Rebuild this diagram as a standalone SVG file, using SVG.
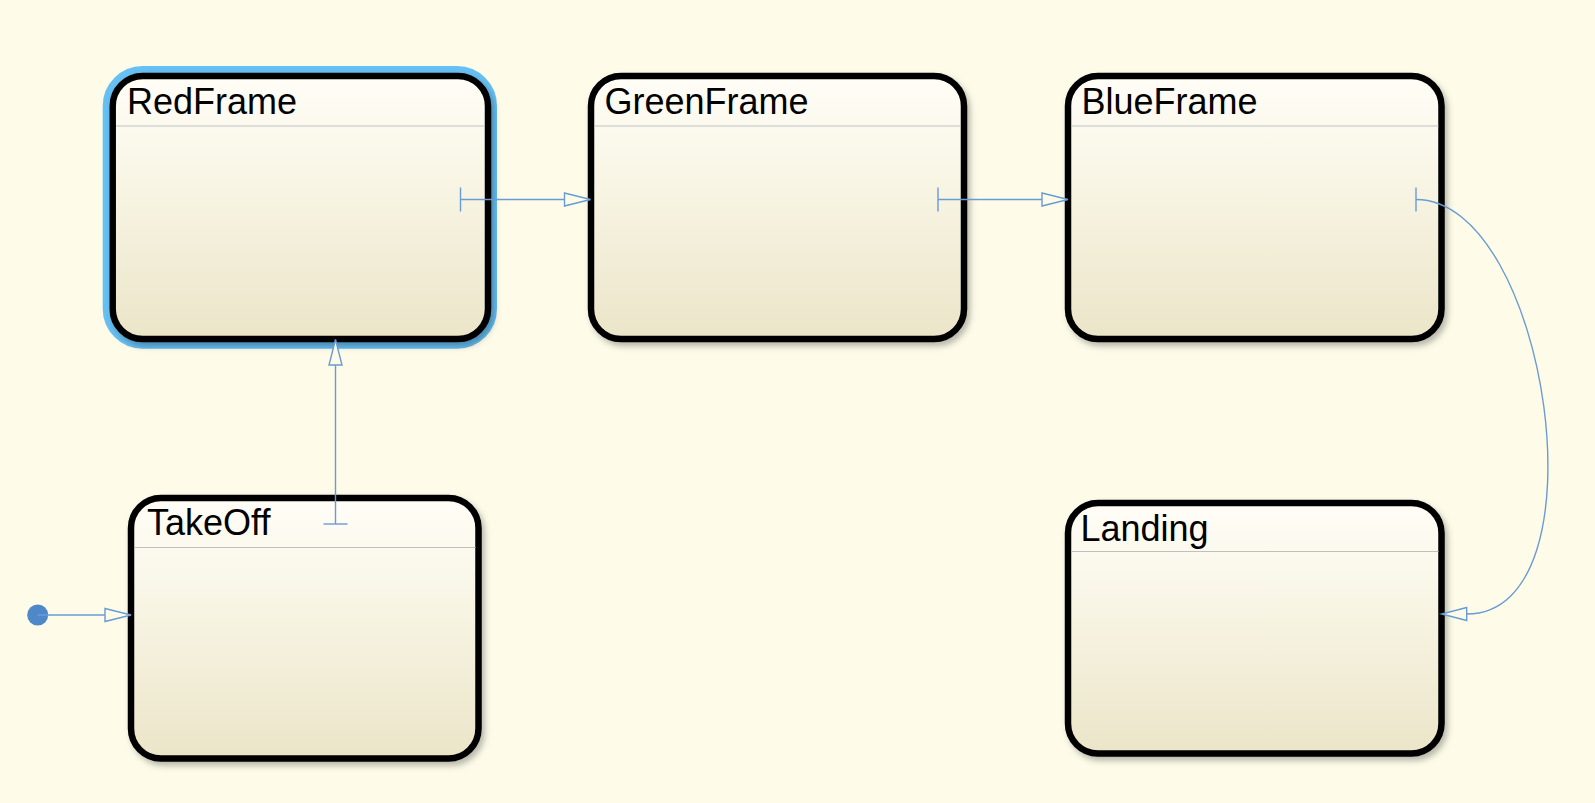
<svg xmlns="http://www.w3.org/2000/svg" width="1595" height="803" viewBox="0 0 1595 803">
<defs>
<linearGradient id="fillg" x1="0" y1="0" x2="0" y2="1">
<stop offset="0" stop-color="#fffdf6"/>
<stop offset="0.25" stop-color="#fbf9ec"/>
<stop offset="1" stop-color="#ebe5c8"/>
</linearGradient>
<filter id="sh" x="-10%" y="-10%" width="125%" height="125%">
<feDropShadow dx="3" dy="4" stdDeviation="3" flood-color="#000" flood-opacity="0.28"/>
</filter>
</defs>
<style>
.box{fill:url(#fillg);stroke:#000;stroke-width:6.5}
.hdr{stroke:#bfbfbf;stroke-width:1.2}
.lbl{font-family:"Liberation Sans",Arial,sans-serif;font-size:36px;fill:#000}
.tr{fill:none;stroke:#6a9bd4;stroke-width:1.4}
.ah{fill:#fefce9;stroke:#6a9bd4;stroke-width:1.4;stroke-linejoin:miter}
.sel{fill:none;stroke:#66c0f4;stroke-width:7}
</style>
<rect x="0" y="0" width="1595" height="803" fill="#fefce9"/>

<g id="RedFrame">
<rect class="sel" x="106.2" y="69.5" width="387.3" height="275.7" rx="36.5" ry="36.5"/>
<rect class="box" x="112.7" y="76" width="375.3" height="263" rx="30" ry="30" filter="url(#sh)"/>
<line class="hdr" x1="116" y1="126" x2="485" y2="126"/>
<text class="lbl" x="127" y="114">RedFrame</text>
</g>

<g id="GreenFrame">
<rect class="box" x="591" y="76" width="373" height="263" rx="30" ry="30" filter="url(#sh)"/>
<line class="hdr" x1="594" y1="126" x2="961" y2="126"/>
<text class="lbl" x="604.5" y="114">GreenFrame</text>
</g>

<g id="BlueFrame">
<rect class="box" x="1068" y="76" width="373.5" height="263" rx="30" ry="30" filter="url(#sh)"/>
<line class="hdr" x1="1071" y1="126" x2="1438.5" y2="126"/>
<text class="lbl" x="1081.5" y="114">BlueFrame</text>
</g>

<g id="TakeOff">
<rect class="box" x="131" y="498" width="347.5" height="260.5" rx="30" ry="30" filter="url(#sh)"/>
<line class="hdr" x1="134" y1="547.5" x2="475.5" y2="547.5"/>
<text class="lbl" x="147" y="535">TakeOff</text>
</g>

<g id="Landing">
<rect class="box" x="1068" y="503" width="373.5" height="250.5" rx="30" ry="30" filter="url(#sh)"/>
<line class="hdr" x1="1071" y1="551.5" x2="1438.5" y2="551.5"/>
<text class="lbl" x="1080.5" y="540.5">Landing</text>
</g>

<g id="connectors">
<circle cx="37.7" cy="615" r="10.5" fill="#4f88c9"/>
<line class="tr" x1="37.7" y1="615" x2="105" y2="615"/>
<polygon class="ah" points="105,608.5 131,615 105,621.5"/>
<line class="tr" x1="323.5" y1="524" x2="347.5" y2="524"/>
<line class="tr" x1="335.5" y1="524" x2="335.5" y2="365"/>
<polygon class="ah" points="329,365 335.5,339.5 342,365"/>
<line class="tr" x1="460.5" y1="187.5" x2="460.5" y2="211.5"/>
<line class="tr" x1="460.5" y1="199.5" x2="564.5" y2="199.5"/>
<polygon class="ah" points="564.5,193 590.5,199.5 564.5,206"/>
<line class="tr" x1="938" y1="187.5" x2="938" y2="211.5"/>
<line class="tr" x1="938" y1="199.5" x2="1042" y2="199.5"/>
<polygon class="ah" points="1042,193 1068,199.5 1042,206"/>
<line class="tr" x1="1416" y1="187.5" x2="1416" y2="211.5"/>
<path class="tr" d="M1416,199.5 C1548,199.5 1608,614 1466.7,614"/>
<polygon class="ah" points="1466.7,607.5 1441.7,614 1466.7,620.5"/>
</g>
</svg>
